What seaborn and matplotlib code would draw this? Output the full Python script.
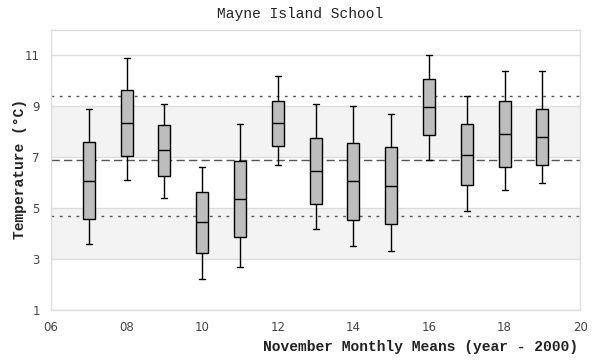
import numpy as np
import pandas as pd
import matplotlib
matplotlib.use("Agg")
import matplotlib.pyplot as plt
import seaborn as sns

# five-number summaries (min, q1, median, q3, max)
years = [7, 8, 9, 10, 11, 12, 13, 14, 15, 16, 17, 18, 19]
t_min = [3.59, 6.10, 5.40, 2.21, 2.68, 6.70, 4.18, 3.51, 3.31, 6.89, 4.89, 5.71, 5.99]
t_q1 = [4.57, 7.05, 6.26, 3.23, 3.86, 7.44, 5.16, 4.53, 4.37, 7.88, 5.91, 6.62, 6.70]
t_med = [6.08, 8.35, 7.29, 4.45, 5.36, 8.35, 6.46, 6.08, 5.87, 8.98, 7.09, 7.92, 7.80]
t_q3 = [7.60, 9.65, 8.27, 5.63, 6.85, 9.22, 7.76, 7.56, 7.41, 10.08, 8.31, 9.22, 8.90]
t_max = [8.90, 10.91, 9.10, 6.63, 8.31, 10.20, 9.10, 9.00, 8.70, 11.03, 9.41, 10.40, 10.40]

# reference lines: mean and +/- spread
mean_line = 6.90
upper_line = 9.42
lower_line = 4.70

# five points per year reproduce the quartiles exactly
rows = []
for i, yr in enumerate(years):
    for v in (t_min[i], t_q1[i], t_med[i], t_q3[i], t_max[i]):
        rows.append({"year": yr, "temp": v})
df = pd.DataFrame(rows)

sns.set_style("white")
plt.rcParams['font.family'] = ['DejaVu Sans']

fig = plt.figure(figsize=(6, 3.6), dpi=100)
ax = fig.add_axes([0.085, 0.139, 0.882, 0.778])

# alternating bands and grid
for lo, hi in [(3, 5), (7, 9)]:
    ax.axhspan(lo, hi, color="#f3f3f3", zorder=0, lw=0)
for g in [1, 3, 5, 7, 9, 11]:
    ax.axhline(g, color="#dddddd", lw=1, zorder=0.5)

for yv, ls in [(upper_line, (0, (2, 4))), (lower_line, (0, (2, 4))),
               (mean_line, (0, (6, 3)))]:
    ax.axhline(yv, color="#555555", lw=1, ls=ls, zorder=0.8)

n_lines = len(ax.lines)
n_patches = len(ax.patches)
sns.boxplot(data=df, x="year", y="temp", native_scale=True, whis=np.inf,
            width=0.32, color="#bdbdbd", linecolor="black", linewidth=1,
            fill=True, saturation=1, ax=ax)
# boxes sit above the reference lines
for p in ax.patches[n_patches:]:
    p.set_zorder(2)
for ln in ax.lines[n_lines:]:
    ln.set_zorder(2.5)

ax.set_xlim(6, 20)
ax.set_ylim(1, 12)
ax.set_xticks(range(6, 21, 2))
ax.set_xticklabels([f"{t:02d}" for t in range(6, 21, 2)])
ax.set_yticks([1, 3, 5, 7, 9, 11])
ax.tick_params(axis="both", length=0, labelsize=8.5, labelcolor="#444444", pad=8)

for s in ax.spines.values():
    s.set_color("#dddddd")
    s.set_linewidth(1)

mono = ["Liberation Mono", "DejaVu Sans Mono"]
ax.set_xlabel("")
ax.set_ylabel("")
fig.text(0.5, 0.96, "Mayne Island School", ha="center", va="center",
         family=mono, fontsize=10.5, color="#222222")
fig.text(0.963, 0.035, "November Monthly Means (year - 2000)", ha="right",
         va="center", family=mono, fontsize=10.5, fontweight="bold", color="#222222")
fig.text(0.033, 0.53, "Temperature (°C)", ha="center", va="center", rotation=90,
         family=mono, fontsize=10.5, fontweight="bold", color="#222222")

fig.savefig("out.png", dpi=100)
